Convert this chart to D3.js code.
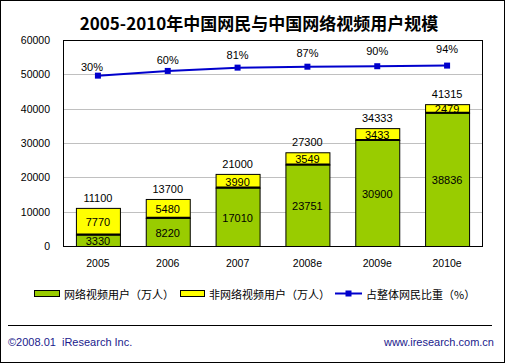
<!DOCTYPE html>
<html>
<head>
<meta charset="utf-8">
<script src="https://cdn.jsdelivr.net/npm/d3@7"></script>
<style>
  body { margin: 0; background: #fff; }
  svg { display: block; }
</style>
</head>
<body>
<script>
// chart data
const years = ["2005", "2006", "2007", "2008e", "2009e", "2010e"];
const videoUsers = [3330, 8220, 17010, 23751, 30900, 38836];
const nonVideoUsers = [7770, 5480, 3990, 3549, 3433, 2479];
const totalUsers = [11100, 13700, 21000, 27300, 34333, 41315];
const sharePct = [30, 60, 81, 87, 90, 94];
const yTicks = [0, 10000, 20000, 30000, 40000, 50000, 60000];

const width = 505, height = 363;
const plot = { left: 63, right: 482, top: 40, bottom: 246 };
const latin = "'Liberation Sans', Arial, sans-serif";
const cjk = "'Noto Sans CJK SC', sans-serif";
const green = "#99CC00", yellow = "#FFFF00", blue = "#0000CC";

const svg = d3.select("body").append("svg")
  .attr("width", width)
  .attr("height", height);

// outer frame
svg.append("rect")
  .attr("x", 0.5).attr("y", 0.5)
  .attr("width", width - 1).attr("height", height - 1)
  .attr("fill", "#fff").attr("stroke", "#000");

// title
svg.append("text")
  .attr("x", 259).attr("y", 30)
  .attr("text-anchor", "middle")
  .style("font-family", cjk)
  .style("font-weight", "bold")
  .style("font-size", "17px")
  .text("2005-2010年中国网民与中国网络视频用户规模");

const x = d3.scaleBand()
  .domain(years)
  .range([plot.left, plot.right])
  .paddingInner(0.37)
  .paddingOuter(0.185);

const y = d3.scaleLinear()
  .domain([0, 60000])
  .range([plot.bottom, plot.top]);

// hidden secondary axis for the percentage line
const yPct = d3.scaleLinear()
  .domain([-1055, 257])
  .range([plot.bottom, plot.top]);

// grid lines
svg.append("g")
  .selectAll("line")
  .data(yTicks.filter(d => d > 0 && d < 60000))
  .join("line")
  .attr("x1", plot.left).attr("x2", plot.right)
  .attr("y1", d => Math.round(y(d)) + 0.5)
  .attr("y2", d => Math.round(y(d)) + 0.5)
  .attr("stroke", "#c0c0c0");

// y axis labels
const yAxis = svg.append("g")
  .attr("transform", `translate(${plot.left},0)`)
  .call(d3.axisLeft(y).tickValues(yTicks).tickSize(0).tickPadding(13).tickFormat(d3.format("d")));
yAxis.select(".domain").remove();
yAxis.selectAll("text")
  .style("font-family", latin)
  .style("font-size", "10.5px")
  .attr("fill", "#000");

// bars
const bars = svg.append("g").selectAll("g")
  .data(years.map((yr, i) => ({ yr, g: videoUsers[i], n: nonVideoUsers[i], t: totalUsers[i] })))
  .join("g");

bars.append("rect")
  .attr("x", d => x(d.yr) + 0.5)
  .attr("y", d => y(d.g + d.n) + 0.5)
  .attr("width", x.bandwidth())
  .attr("height", d => y(d.g) - y(d.g + d.n))
  .attr("fill", yellow)
  .attr("stroke", "#000");

bars.append("rect")
  .attr("x", d => x(d.yr) + 0.5)
  .attr("y", d => y(d.g) + 0.5)
  .attr("width", x.bandwidth())
  .attr("height", d => y(0) - y(d.g))
  .attr("fill", green)
  .attr("stroke", "#000");

bars.append("line")
  .attr("x1", d => x(d.yr) + 0.5)
  .attr("x2", d => x(d.yr) + x.bandwidth() + 0.5)
  .attr("y1", d => y(d.g))
  .attr("y2", d => y(d.g))
  .attr("stroke", "#000")
  .attr("stroke-width", 2);

const labelStyle = sel => sel
  .attr("text-anchor", "middle")
  .attr("dominant-baseline", "central")
  .style("font-family", latin)
  .style("font-size", "11px");

bars.append("text")
  .attr("x", d => x(d.yr) + x.bandwidth() / 2)
  .attr("y", d => (y(0) + y(d.g)) / 2 + 1)
  .call(labelStyle)
  .text(d => d.g);

bars.append("text")
  .attr("x", d => x(d.yr) + x.bandwidth() / 2)
  .attr("y", d => (y(d.g) + y(d.g + d.n)) / 2 + 1)
  .call(labelStyle)
  .text(d => d.n);

bars.append("text")
  .attr("x", d => x(d.yr) + x.bandwidth() / 2)
  .attr("y", d => y(d.t) - 10)
  .call(labelStyle)
  .text(d => d.t);

// plot border (top, left, right) and x axis
svg.append("rect")
  .attr("x", plot.left + 0.5).attr("y", plot.top + 0.5)
  .attr("width", plot.right - plot.left).attr("height", plot.bottom - plot.top)
  .attr("fill", "none").attr("stroke", "#000");

const xAxis = svg.append("g")
  .attr("transform", `translate(0,${plot.bottom})`)
  .call(d3.axisBottom(x).tickSize(0).tickPadding(14));
xAxis.select(".domain").remove();
xAxis.selectAll("text")
  .style("font-family", latin)
  .style("font-size", "10.5px")
  .attr("fill", "#000");

// percentage line
const cx = i => x(years[i]) + x.bandwidth() / 2;
svg.append("path")
  .datum(sharePct)
  .attr("fill", "none")
  .attr("stroke", blue)
  .attr("stroke-width", 2)
  .attr("d", d3.line().x((d, i) => cx(i)).y(d => yPct(d)));

svg.append("g").selectAll("rect")
  .data(sharePct)
  .join("rect")
  .attr("x", (d, i) => cx(i) - 3)
  .attr("y", d => yPct(d) - 3)
  .attr("width", 6).attr("height", 6)
  .attr("fill", blue);

svg.append("g").selectAll("text")
  .data(sharePct)
  .join("text")
  .attr("x", (d, i) => cx(i) - (i === 0 ? 6 : 0))
  .attr("y", (d, i) => yPct(d) - 9 - i * 1.6)
  .call(labelStyle)
  .text(d => d + "%");

// legend
const leg = svg.append("g").attr("transform", "translate(0,293)");
leg.append("rect").attr("x", 34.5).attr("y", -2.5).attr("width", 25).attr("height", 6)
  .attr("fill", green).attr("stroke", "#000");
leg.append("text").attr("x", 64).attr("y", 1).attr("dominant-baseline", "central")
  .style("font-family", cjk).style("font-size", "11px").text("网络视频用户（万人）");
leg.append("rect").attr("x", 180.5).attr("y", -2.5).attr("width", 24).attr("height", 6)
  .attr("fill", yellow).attr("stroke", "#000");
leg.append("text").attr("x", 209).attr("y", 1).attr("dominant-baseline", "central")
  .style("font-family", cjk).style("font-size", "11px").text("非网络视频用户（万人）");
leg.append("line").attr("x1", 335).attr("x2", 362).attr("y1", 0.5).attr("y2", 0.5)
  .attr("stroke", blue).attr("stroke-width", 2);
leg.append("rect").attr("x", 345.5).attr("y", -2.5).attr("width", 6).attr("height", 6)
  .attr("fill", blue);
leg.append("text").attr("x", 366).attr("y", 1).attr("dominant-baseline", "central")
  .style("font-family", cjk).style("font-size", "11px").text("占整体网民比重（%）");

// footer
svg.append("line")
  .attr("x1", 8).attr("x2", 492).attr("y1", 325.5).attr("y2", 325.5)
  .attr("stroke", "#000");
svg.append("text")
  .attr("x", 8).attr("y", 346)
  .attr("fill", "#1a1a8c")
  .style("white-space", "pre")
  .style("font-family", latin).style("font-size", "11px")
  .text("©2008.01  iResearch Inc.");
svg.append("text")
  .attr("x", 494).attr("y", 346)
  .attr("text-anchor", "end")
  .attr("fill", "#1a1a8c")
  .style("font-family", latin).style("font-size", "11px")
  .text("www.iresearch.com.cn");
</script>
</body>
</html>
